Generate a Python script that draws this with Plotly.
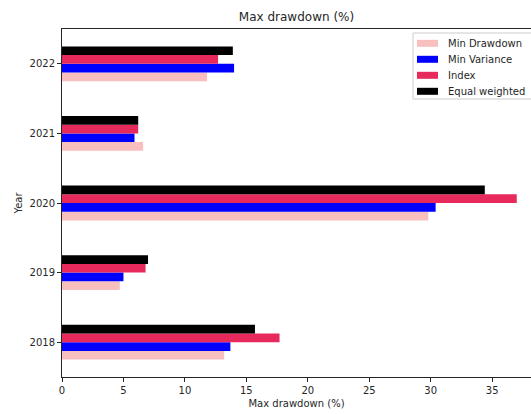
import plotly.graph_objects as go

years = ["2018", "2019", "2020", "2021", "2022"]
min_drawdown = [13.2, 4.7, 29.8, 6.6, 11.8]
min_variance = [13.7, 5.0, 30.4, 5.9, 14.0]
index_vals = [17.7, 6.8, 37.0, 6.2, 12.7]
equal_weighted = [15.7, 7.0, 34.4, 6.2, 13.9]
x_ticks = [0, 5, 10, 15, 20, 25, 30, 35]

series = [
    ("Min Drawdown", min_drawdown, "#f8bfbe"),
    ("Min Variance", min_variance, "#0000ff"),
    ("Index", index_vals, "#e8295c"),
    ("Equal weighted", equal_weighted, "#000000"),
]

W, H = 531, 414
L, R, T, B = 62, 0, 29, 37
PW, PH = W - L - R, H - T - B


def px_x(px):
    return (px - L) / PW


def px_y(py):
    return (H - B - py) / PH


fig = go.Figure()
for name, vals, col in series:
    fig.add_trace(go.Bar(y=years, x=vals, name=name, orientation="h",
                         showlegend=False,
                         marker=dict(color=col, line=dict(width=0))))

txt = "#262626"
shapes = [dict(type="rect", xref="paper", yref="paper", layer="above",
               x0=px_x(413), x1=px_x(545), y0=px_y(99), y1=px_y(33),
               fillcolor="rgba(255,255,255,0.8)", line=dict(color="#cccccc", width=1))]
annotations = []
legend_y = [43.3, 59.3, 75.3, 91.3]
for (name, vals, col), ly in zip(series, legend_y):
    shapes.append(dict(type="rect", xref="paper", yref="paper", layer="above",
                       x0=px_x(417), x1=px_x(438), y0=px_y(ly + 3.5), y1=px_y(ly - 3.5),
                       fillcolor=col, line=dict(width=0)))
    annotations.append(dict(x=px_x(446), y=px_y(ly), xref="paper", yref="paper",
                            text=name, showarrow=False, xanchor="left", yanchor="middle",
                            font=dict(family="DejaVu Sans", size=10, color=txt)))

fig.update_layout(
    width=W, height=H,
    margin=dict(l=L, r=R, t=T, b=B),
    paper_bgcolor="white", plot_bgcolor="white",
    barmode="group", bargap=0.5, bargroupgap=0,
    font=dict(family="DejaVu Sans", size=10, color=txt),
    title=dict(text="Max drawdown (%)", x=0.5, xref="paper", y=1 - 17 / H,
               yanchor="middle", font=dict(family="DejaVu Sans", size=12, color=txt)),
    shapes=shapes,
    annotations=annotations,
    xaxis=dict(range=[0, 38.16], tickvals=x_ticks, ticks="outside", ticklen=4,
               tickcolor=txt, showline=True, linecolor=txt, linewidth=1,
               mirror=True, showgrid=False, zeroline=False,
               title=dict(text="Max drawdown (%)", standoff=4,
                          font=dict(family="DejaVu Sans", size=10, color=txt))),
    yaxis=dict(range=[-0.5, 4.5], ticks="outside", ticklen=4, tickcolor=txt,
               showline=True, linecolor=txt, linewidth=1, showgrid=False,
               zeroline=False,
               title=dict(text="Year", standoff=5,
                          font=dict(family="DejaVu Sans", size=10, color=txt))),
)

fig.write_html("out.html", config={"displayModeBar": False},
               post_script="document.body.style.margin='0';")
